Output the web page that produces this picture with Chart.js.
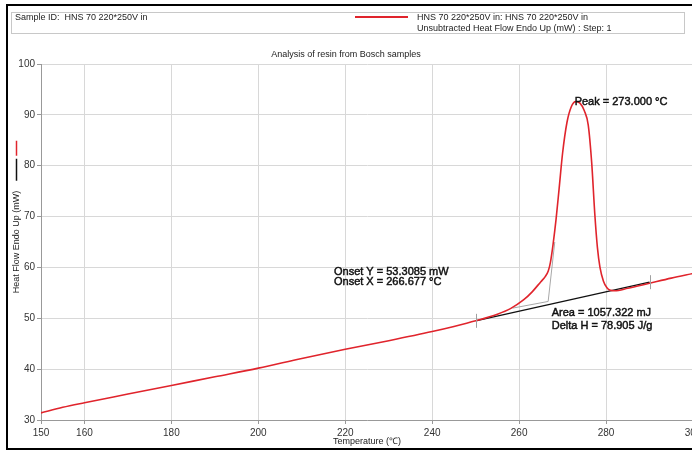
<!DOCTYPE html>
<html>
<head>
<meta charset="utf-8">
<script src="https://cdn.jsdelivr.net/npm/chart.js@4.4.0/dist/chart.umd.min.js"></script>
<style>
  body { margin: 0; width: 692px; height: 452px; overflow: hidden; background: #fff; position: relative;
         font-family: "Liberation Sans", Arial, sans-serif; color: #222; }
  #wrap { position: absolute; left: 0; top: 0; width: 720px; height: 452px; }
  #frame { position: absolute; left: 6px; top: 4px; width: 720px; height: 442px; pointer-events: none;
           border-top: 2px solid #000; border-left: 2px solid #000; border-bottom: 2px solid #000; }
  #header { position: absolute; left: 11px; top: 12px; width: 672px; height: 20px; border: 1px solid #c8c8c8; }
  .txt { position: absolute; font-size: 9px; line-height: 11px; white-space: nowrap; }
  #legendLine { position: absolute; left: 355px; top: 16px; width: 53px; height: 2px; background: #e0242c; }
  #title { position: absolute; left: 0; top: 49px; width: 692px; text-align: center; font-size: 9px; line-height: 11px; }
</style>
</head>
<body>
<div id="wrap"><canvas id="grafico"></canvas></div>
<div id="header"></div>
<div class="txt" style="left:15px; top:12px;">Sample ID:&nbsp; HNS 70 220*250V in</div>
<div id="legendLine"></div>
<div class="txt" style="left:417px; top:12px;">HNS 70 220*250V in: HNS 70 220*250V in</div>
<div class="txt" style="left:417px; top:23px;">Unsubtracted Heat Flow Endo Up (mW) : Step: 1</div>
<div id="title">Analysis of resin from Bosch samples</div>
<div id="frame"></div>
<script>
// DSC scan: temperature (°C) vs heat flow (mW)
const temperature = [150, 155, 160, 170, 180, 190, 200, 210, 220, 230,
  240, 245, 250, 255, 258, 261, 263, 265, 266, 266.7,
  267.2, 267.8, 268.5, 269.2, 270, 271, 272, 273, 274, 275,
  275.9, 276.7, 277.4, 278, 278.6, 279.4, 280.2, 281, 282, 285,
  290, 295, 300];
const heatFlow = [31.4, 32.5, 33.4, 35.1, 36.8, 38.5, 40.2, 42.1, 43.9, 45.6,
  47.4, 48.4, 49.5, 50.8, 51.9, 53.6, 55.2, 57.2, 58.2, 59.3,
  61.0, 64.5, 69.5, 75.5, 82.5, 88.5, 91.6, 92.6, 92.3, 90.8,
  88.0, 80.5, 70.6, 64.0, 60.0, 57.3, 56.0, 55.5, 55.4, 55.9,
  56.9, 57.9, 58.8];

// integration baseline (limits 250 - 290 °C)
const baseTemp = [250, 290];
const baseFlow = [49.5, 57.1];

// onset construction: extrapolated baseline + tangent
const onsetTemp = [258.5, 266.677, 268.2];
const onsetFlow = [52.0, 53.3085, 65.0];

const areaMJ = 1057.322;
const deltaH = 78.905;

const xTicks = [150, 160, 180, 200, 220, 240, 260, 280, 300];
const yTicks = [30, 40, 50, 60, 70, 80, 90, 100];

function pares(xs, ys) {
  return xs.map((v, i) => ({ x: v, y: ys[i] }));
}

const peakIdx = heatFlow.indexOf(Math.max(...heatFlow));

function texto(ctx, t, px, py) {
  ctx.fillText(t, px, py);
  ctx.strokeText(t, px, py);
}

const anotacoes = {
  id: 'anotacoes',
  afterDatasetsDraw(chart) {
    const ctx = chart.ctx;
    const x = chart.scales.x, y = chart.scales.y;
    ctx.save();

    // integration limit markers
    ctx.strokeStyle = '#a0a0a0';
    ctx.lineWidth = 1;
    baseTemp.forEach((t, i) => {
      const px = Math.round(x.getPixelForValue(t)) + 0.5;
      const py = y.getPixelForValue(baseFlow[i]);
      ctx.beginPath();
      ctx.moveTo(px, py - 7);
      ctx.lineTo(px, py + 7);
      ctx.stroke();
    });

    ctx.font = '11px "Liberation Sans", Arial, sans-serif';
    ctx.fillStyle = '#111';
    ctx.strokeStyle = '#111';
    ctx.lineWidth = 0.45;
    ctx.textBaseline = 'middle';
    ctx.textAlign = 'left';

    const pkX = x.getPixelForValue(temperature[peakIdx]);
    const pkY = y.getPixelForValue(heatFlow[peakIdx]);
    texto(ctx, 'Peak = ' + temperature[peakIdx].toFixed(3) + ' °C', pkX - 1, pkY);

    const oX = x.getPixelForValue(217.4), oY = y.getPixelForValue(59.1);
    texto(ctx, 'Onset Y = ' + onsetFlow[1].toFixed(4) + ' mW', oX, oY);
    texto(ctx, 'Onset X = ' + onsetTemp[1].toFixed(3) + ' °C', oX, oY + 9.5);

    const aX = x.getPixelForValue(267.5), aY = y.getPixelForValue(51.0);
    texto(ctx, 'Area = ' + areaMJ.toFixed(3) + ' mJ', aX, aY);
    texto(ctx, 'Delta H = ' + deltaH.toFixed(3) + ' J/g', aX, aY + 12.5);
    ctx.restore();
  },
  afterDraw(chart) {
    // curve keys next to the y axis title
    const ctx = chart.ctx;
    const a = chart.chartArea;
    const mid = (a.top + a.bottom) / 2;
    ctx.save();
    ctx.font = '9px "Liberation Sans", Arial, sans-serif';
    const topo = mid - ctx.measureText('Heat Flow Endo Up (mW)').width / 2;
    ctx.lineWidth = 1.5;
    ctx.strokeStyle = '#111';
    ctx.beginPath();
    ctx.moveTo(16.5, topo - 10);
    ctx.lineTo(16.5, topo - 32);
    ctx.stroke();
    ctx.strokeStyle = '#e0242c';
    ctx.beginPath();
    ctx.moveTo(16.5, topo - 35);
    ctx.lineTo(16.5, topo - 50);
    ctx.stroke();
    ctx.restore();
  }
};

const fonte = '"Liberation Sans", Arial, sans-serif';

new Chart(document.getElementById('grafico'), {
  type: 'scatter',
  data: {
    datasets: [
      {
        data: pares(temperature, heatFlow),
        showLine: true,
        borderColor: '#e0242c',
        borderWidth: 1.6,
        pointRadius: 0,
        cubicInterpolationMode: 'monotone'
      },
      {
        data: pares(baseTemp, baseFlow),
        showLine: true,
        borderColor: '#111',
        borderWidth: 1.4,
        pointRadius: 0
      },
      {
        data: pares(onsetTemp, onsetFlow),
        showLine: true,
        borderColor: '#a8a8a8',
        borderWidth: 1,
        pointRadius: 0
      }
    ]
  },
  options: {
    responsive: true,
    maintainAspectRatio: false,
    animation: false,
    events: [],
    layout: { padding: { top: 64, right: 27, left: 0, bottom: 0 } },
    plugins: { legend: { display: false }, tooltip: { enabled: false } },
    scales: {
      x: {
        type: 'linear',
        min: 150,
        max: 300,
        afterBuildTicks: s => { s.ticks = xTicks.map(v => ({ value: v })); },
        afterFit: s => { s.height = 32; },
        ticks: { font: { size: 10, family: fonte }, color: '#333', padding: 3, maxRotation: 0, autoSkip: false },
        grid: { color: '#d8d8d8', tickLength: 4, tickColor: '#999' },
        border: { color: '#999' },
        title: { display: true, text: 'Temperature (℃)', font: { size: 9, family: fonte }, color: '#222',
                 padding: { top: 0, bottom: 5.5 } }
      },
      y: {
        min: 30,
        max: 100,
        afterBuildTicks: s => { s.ticks = yTicks.map(v => ({ value: v })); },
        afterFit: s => { s.width = 41; },
        ticks: { font: { size: 10, family: fonte }, color: '#333', padding: 2 },
        grid: { color: '#d8d8d8', tickLength: 4, tickColor: '#999' },
        border: { color: '#999' },
        title: { display: true, text: 'Heat Flow Endo Up (mW)', font: { size: 9, family: fonte }, color: '#222',
                 padding: { top: 11.5, bottom: 0 } }
      }
    }
  },
  plugins: [anotacoes]
});
</script>
</body>
</html>
